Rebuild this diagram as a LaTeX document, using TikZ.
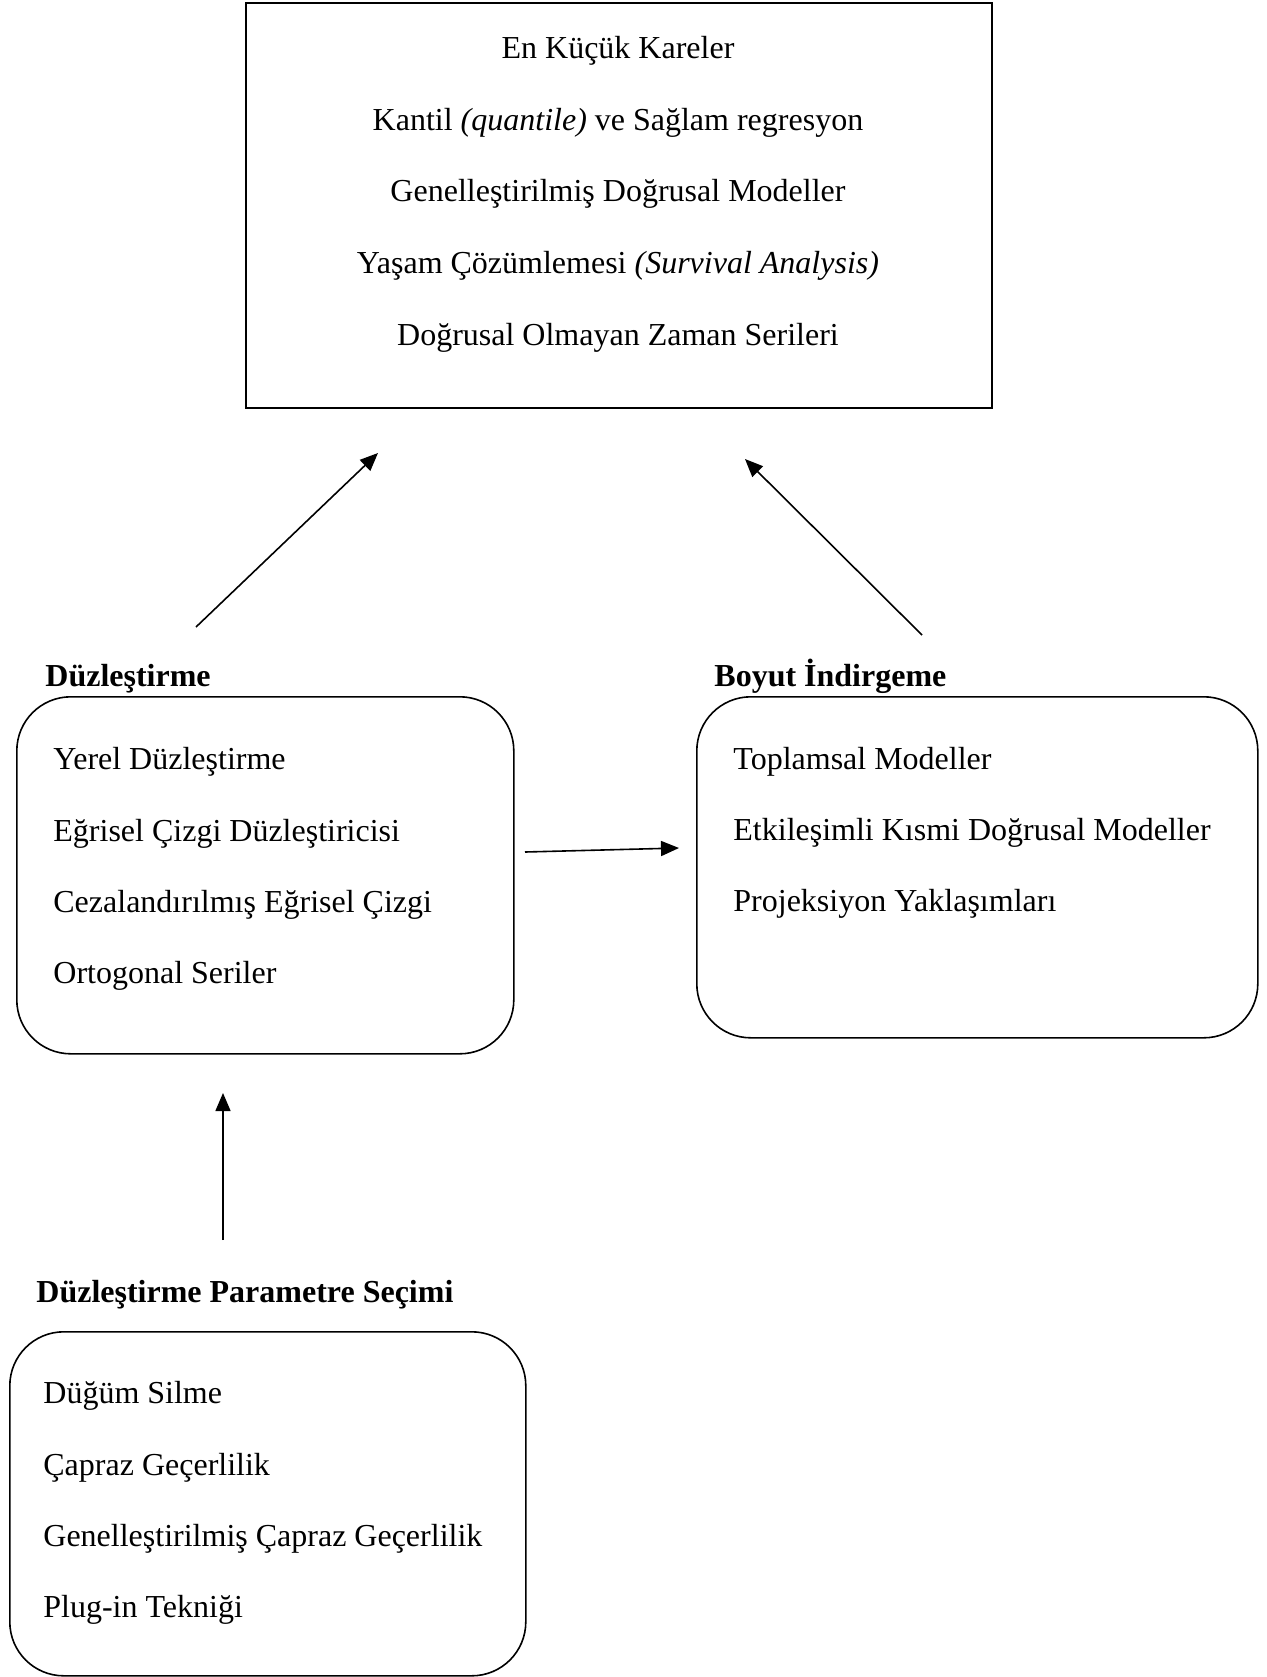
\documentclass[tikz,border=0pt]{standalone}
\usepackage{fontspec}
\setmainfont{Liberation Serif}
\usetikzlibrary{arrows.meta}
\begin{document}
\begin{tikzpicture}[x=0.5pt,y=-0.5pt,
 frame/.style={draw, line width=0.8pt, inner sep=0pt, anchor=north west},
 rbox/.style={frame, rounded corners=27pt},
 item/.style={anchor=base west, inner sep=0pt, font=\fontsize{16}{19}\selectfont},
 citem/.style={anchor=base, inner sep=0pt, font=\fontsize{16}{19}\selectfont},
 head/.style={anchor=base west, inner sep=0pt, font=\fontsize{16}{19}\selectfont\bfseries},
 arr/.style={-{Triangle[length=9pt,width=7.5pt]}, line width=0.8pt}]
\useasboundingbox (0,0) rectangle (1267,1677);
% top box
\node[frame, minimum width=373pt, minimum height=202.5pt] (top) at (245,2) {};
\node[citem] (t1) at (618,58) {En Küçük Kareler};
\node[citem] (t2) at (618,130) {Kantil \textit{(quantile)} ve Sağlam regresyon};
\node[citem] (t3) at (618,201) {Genelleştirilmiş Doğrusal Modeller};
\node[citem] (t4) at (618,273) {Yaşam Çözümlemesi \textit{(Survival Analysis)}};
\node[citem] (t5) at (618,345) {Doğrusal Olmayan Zaman Serileri};
% left box
\node[head] (hl) at (45,686) {Düzleştirme};
\node[rbox, minimum width=248.5pt, minimum height=178.5pt] (left) at (16,696) {};
\node[item] (l1) at (53,769) {Yerel Düzleştirme};
\node[item] (l2) at (53,841) {Eğrisel Çizgi Düzleştiricisi};
\node[item] (l3) at (53,912) {Cezalandırılmış Eğrisel Çizgi};
\node[item] (l4) at (53,983) {Ortogonal Seriler};
% right box
\node[head] (hr) at (714,686) {Boyut İndirgeme};
\node[rbox, minimum width=280.5pt, minimum height=170.5pt] (right) at (696,696) {};
\node[item] (r1) at (733,769) {Toplamsal Modeller};
\node[item] (r2) at (733,840) {Etkileşimli Kısmi Doğrusal Modeller};
\node[item] (r3) at (733,911) {Projeksiyon Yaklaşımları};
% bottom box
\node[head] (hb) at (36,1302) {Düzleştirme Parametre Seçimi};
\node[rbox, minimum width=258pt, minimum height=172pt] (bot) at (9,1331) {};
\node[item] (b1) at (43,1403) {Düğüm Silme};
\node[item] (b2) at (43,1475) {Çapraz Geçerlilik};
\node[item] (b3) at (43,1546) {Genelleştirilmiş Çapraz Geçerlilik};
\node[item] (b4) at (43,1617) {Plug-in Tekniği};
% arrow end points
\coordinate (a1s) at (196,627);
\coordinate (a1e) at (378,453);
\coordinate (a2s) at (922,635);
\coordinate (a2e) at (745,459);
\coordinate (a3s) at (525,852);
\coordinate (a3e) at (679,848);
\coordinate (a4s) at (223,1240);
\coordinate (a4e) at (223,1093);
\draw[arr] (a1s) -- (a1e);
\draw[arr] (a2s) -- (a2e);
\draw[arr] (a3s) -- (a3e);
\draw[arr] (a4s) -- (a4e);
\end{tikzpicture}
\end{document}
